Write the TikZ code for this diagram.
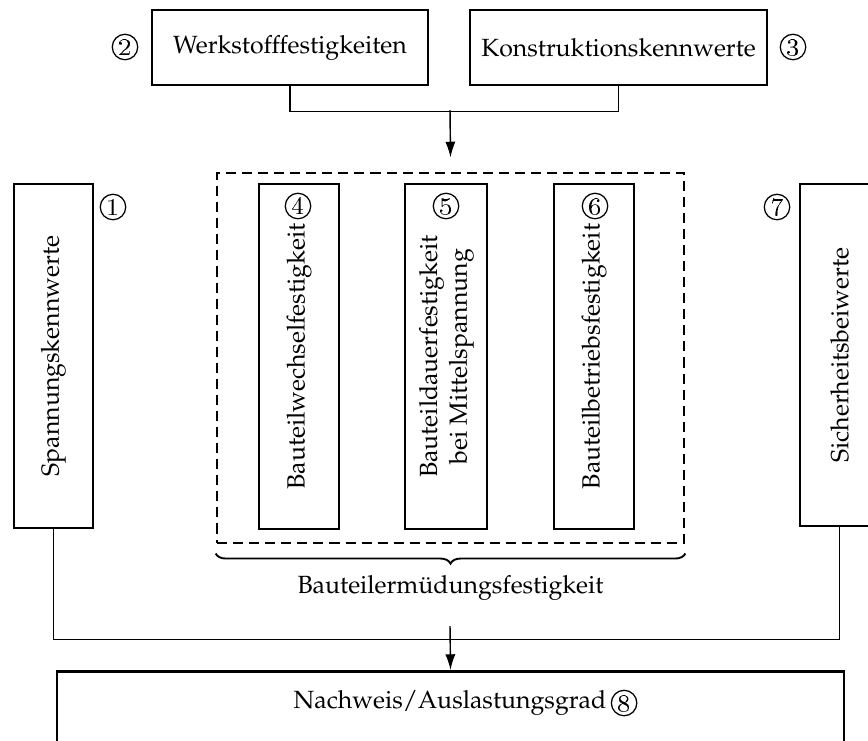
\documentclass[tikz,border=0pt]{standalone}
\usepackage[T1]{fontenc}
\usepackage{mathpazo}
\usepackage{graphicx}
\usetikzlibrary{arrows.meta,decorations.pathreplacing,positioning}

\newdimen\px \px=0.3175pt

\tikzset{
  block/.style={draw, line width=0.85pt, inner sep=0pt},
  nummer/.style={circle, draw, line width=0.4pt, inner sep=0.5pt,
    font=\fontfamily{lmr}\fontsize{7.9}{9.5}\selectfont},
  verbind/.style={line width=0.45pt},
  pfeil/.style={verbind, -{Latex[length=5pt,width=3.2pt]}},
  gruppe/.style={draw, line width=0.85pt, dash pattern=on 3.2pt off 1.9pt, inner sep=0pt},
}

\begin{document}
\fontsize{7.9}{9.5}\selectfont
\begin{tikzpicture}[x=0.3175pt,y=-0.3175pt]
  \useasboundingbox (0,0) rectangle (868,740);
  \clip (0,0) rectangle (868,740);

  % Eingangsgroessen oben
  \node[block, minimum width=276*\px, minimum height=75*\px] (werk) at (290,47.5) {Werkstofffestigkeiten};
  \node[block, minimum width=297*\px, minimum height=75*\px] (konst) at (618.5,47.5) {Konstruktionskennwerte};
  \node[nummer] (n2) at (125,47) {2};
  \node[nummer] (n3) at (793,47) {3};

  % seitliche Kennwerte
  \node[block, minimum width=79*\px, minimum height=344*\px] (span) at (53.5,356) {\rotatebox{90}{Spannungskennwerte}};
  \node[block, minimum width=79*\px, minimum height=342*\px] (sich) at (839.5,355) {\rotatebox{90}{Sicherheitsbeiwerte}};
  \node[nummer] (n1) at (113,207) {1};
  \node[nummer] (n7) at (777,207) {7};

  % Bauteilermuedungsfestigkeit
  \node[gruppe, minimum width=467*\px, minimum height=370*\px] (ermued) at (450.5,358) {};
  \node[block, minimum width=80*\px, minimum height=345*\px] (b4) at (299,356.5) {\rotatebox{90}{Bauteilwechselfestigkeit}};
  \node[block, minimum width=82*\px, minimum height=345*\px] (b5) at (446,356.5)
    {\rotatebox{90}{\begin{tabular}{@{}c@{}}Bauteildauerfestigkeit\\ bei Mittelspannung\end{tabular}}};
  \node[block, minimum width=80*\px, minimum height=345*\px] (b6) at (594,356.5) {\rotatebox{90}{Bauteilbetriebsfestigkeit}};
  \node[nummer] (n4) at (298,206) {4};
  \node[nummer] (n5) at (446,206) {5};
  \node[nummer] (n6) at (595,206) {6};

  \draw[line width=0.6pt, decorate, decoration={brace, mirror, amplitude=3.2pt}]
    ([yshift=-2.9pt]ermued.south west) -- ([yshift=-2.9pt]ermued.south east)
    node[midway, below, yshift=-4pt] (ermlabel) {Bauteilermüdungsfestigkeit};

  % Nachweis unten
  \node[block, minimum width=787*\px, minimum height=90*\px, anchor=north] (nachweis) at (450.5,670) {};
  \node[inner sep=0pt] (nwtext) at (450,703) {Nachweis/Auslastungsgrad};
  \node[nummer, right=1.2pt of nwtext] (n8) {8};

  % Verbindungen
  \coordinate (pTop) at (450,110);
  \coordinate (pBot) at (450,626);
  \draw[verbind] (werk.south) -- ++(0,25) -| (konst.south);
  \draw[pfeil] (pTop) -- ([yshift=4.5pt]ermued.north);
  \draw[verbind] (span.south) -- ++(0,110) -| (sich.south);
  \draw[pfeil] (pBot) -- (nachweis.north);
\end{tikzpicture}
\end{document}
